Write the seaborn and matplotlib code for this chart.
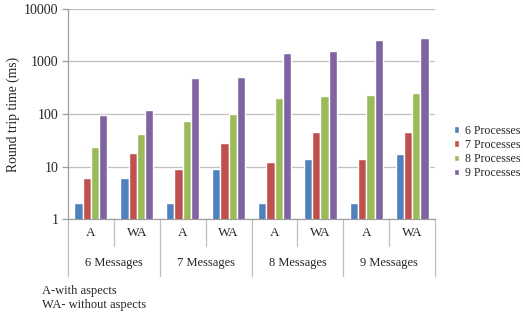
import matplotlib
matplotlib.use("Agg")
import matplotlib.pyplot as plt
import seaborn as sns
import pandas as pd
from matplotlib.patches import Patch

# data
groups = ["6 Messages", "7 Messages", "8 Messages", "9 Messages"]
subgroups = ["A", "WA"]
processes = ["6 Processes", "7 Processes", "8 Processes", "9 Processes"]

p6 = [2, 6, 2, 9, 2, 14, 2, 17]
p7 = [6, 18, 9, 28, 12, 45, 14, 45]
p8 = [24, 42, 75, 100, 200, 220, 225, 250]
p9 = [95, 120, 480, 505, 1450, 1550, 2600, 2800]

colors = ["#4F81BD", "#C0504D", "#9BBB59", "#8064A2"]

slots = [f"{g}|{s}" for g in groups for s in subgroups]
rows = []
for proc, vals in zip(processes, [p6, p7, p8, p9]):
    for slot, v in zip(slots, vals):
        rows.append({"slot": slot, "process": proc, "time": v})
df = pd.DataFrame(rows)

sns.set_style("white")
plt.rcParams["font.family"] = "serif"
plt.rcParams["font.serif"] = ["Liberation Serif", "DejaVu Serif"]

fig = plt.figure(figsize=(5.23, 3.18), dpi=100)
ax = fig.add_axes([0.130, 0.311, 0.702, 0.661])

sns.barplot(data=df, x="slot", y="time", hue="process", palette=colors,
            width=0.72, order=slots, hue_order=processes, ax=ax,
            legend=False, saturation=1, zorder=3)

ax.set_yscale("log")
ax.set_ylim(1, 10000)
ax.set_xlim(-0.5, len(slots) - 0.5)
ax.set_yticks([1, 10, 100, 1000, 10000])
ax.set_yticklabels(["1", "10", "100", "1000", "10000"], fontsize=10)
ax.minorticks_off()
ax.yaxis.grid(True, color="#BFBFBF", linewidth=0.9, zorder=0)
ax.tick_params(axis="y", length=4, width=0.9, color="#9F9F9F", pad=3, left=True)
ax.set_xticks([])
ax.set_xlabel("")
ax.set_ylabel("Round trip time (ms)", fontsize=9.8, labelpad=3)

for side in ["top", "right"]:
    ax.spines[side].set_visible(False)
for side in ["left", "bottom"]:
    ax.spines[side].set_color("#9F9F9F")
    ax.spines[side].set_linewidth(0.9)

# category "table" under the axis
tr = ax.get_xaxis_transform()
n = len(slots)
for i in range(n + 1):
    x = i - 0.5
    y_end = -0.27 if i % 2 == 0 else -0.13
    ax.plot([x, x], [0, y_end], transform=tr, color="#BFBFBF",
            linewidth=0.9, clip_on=False)
for i, slot in enumerate(slots):
    ax.text(i, -0.065, slot.split("|")[1], transform=tr, ha="center",
            va="center", fontsize=9.5)
for j, g in enumerate(groups):
    ax.text(2 * j + 0.5, -0.21, g, transform=tr, ha="center",
            va="center", fontsize=9)

fig.text(0.080, 0.086, "A-with aspects", fontsize=9, va="center")
fig.text(0.080, 0.041, "WA- without aspects", fontsize=9, va="center")

handles = [Patch(facecolor=c, label=p) for c, p in zip(colors, processes)]
fig.legend(handles=handles, loc="center left", bbox_to_anchor=(0.868, 0.522),
           frameon=False, fontsize=8.6, handlelength=0.45, handleheight=0.45,
           handletextpad=0.5, labelspacing=0.18, borderpad=0, borderaxespad=0)

fig.savefig("out.png", dpi=100)
